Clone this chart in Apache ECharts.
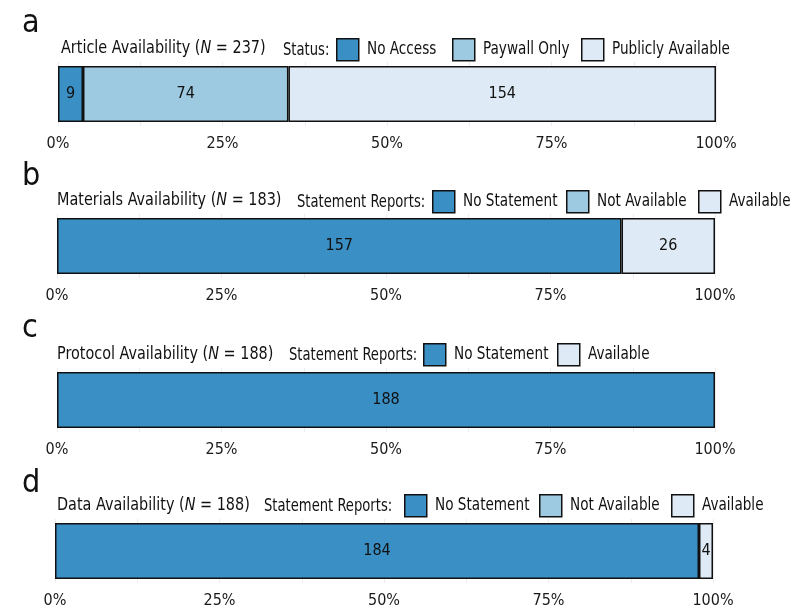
<!DOCTYPE html>
<html>
<head>
<meta charset="utf-8">
<script src="https://cdn.jsdelivr.net/npm/echarts@6/dist/echarts.min.js"></script>
<style>html,body{margin:0;padding:0;background:#fff}#c{width:811px;height:613px}</style>
</head>
<body>
<div id="c"></div>
<script>
// ---- data ----
const panelLetters = ['a', 'b', 'c', 'd'];
const panelTitles = ['Article Availability', 'Materials Availability', 'Protocol Availability', 'Data Availability'];
const sampleSizes = [237, 183, 188, 188];
const legendTitles = ['Status:', 'Statement Reports:', 'Statement Reports:', 'Statement Reports:'];
const categoriesA = ['No Access', 'Paywall Only', 'Publicly Available'];
const countsA = [9, 74, 154];
const categoriesB = ['No Statement', 'Not Available', 'Available'];
const countsB = [157, 0, 26];
const categoriesC = ['No Statement', 'Available'];
const countsC = [188, 0];
const categoriesD = ['No Statement', 'Not Available', 'Available'];
const countsD = [184, 0, 4];
const tickLabels = ['0%', '25%', '50%', '75%', '100%'];

// ---- styling / layout ----
const FONT = '"DejaVu Sans Condensed", "Liberation Sans Narrow", sans-serif';
const colorOf = {
  'No Access': '#3a8fc4', 'No Statement': '#3a8fc4',
  'Paywall Only': '#9ecae1', 'Not Available': '#9ecae1',
  'Publicly Available': '#deebf7', 'Available': '#deebf7'
};
const layout = [
  { left: 58, top: 62, letterTop: 8, titleX: 61, titleY: 48, lgTitleX: 283, lgY: 38, lgX: [336, 452, 581] },
  { left: 57, top: 214, letterTop: 161, titleX: 57, titleY: 200, lgTitleX: 297, lgY: 190, lgX: [432, 566, 698] },
  { left: 57, top: 368, letterTop: 313, titleX: 57, titleY: 354, lgTitleX: 289, lgY: 343, lgX: [423, 557] },
  { left: 55, top: 519, letterTop: 468, titleX: 57, titleY: 505, lgTitleX: 264, lgY: 494, lgX: [404, 539, 671] }
];
const panelCats = [categoriesA, categoriesB, categoriesC, categoriesD];
const panelCounts = [countsA, countsB, countsC, countsD];
const SX = 0.89;

const grids = [], xAxes = [], yAxes = [], series = [], legends = [], graphics = [];
panelCats.forEach((cats, p) => {
  const L = layout[p];
  const N = sampleSizes[p];
  grids.push({ left: L.left, top: L.top, width: 658, height: 64, containLabel: false });
  xAxes.push({
    type: 'value', gridIndex: p, min: 0, max: 100, interval: 12.5,
    axisLine: { show: false }, axisTick: { show: false },
    splitLine: { show: true, lineStyle: { color: '#ececec', width: 1 } },
    axisLabel: {
      margin: 10, color: '#1a1a1a', fontSize: 16, fontFamily: FONT,
      formatter: v => (Math.abs(v % 25) < 1e-6 ? tickLabels[Math.round(v / 25)] : '')
    }
  });
  yAxes.push({ type: 'category', gridIndex: p, data: [''], show: false });
  const counts = panelCounts[p];
  cats.forEach((c, i) => {
    series.push({
      type: 'bar', name: c, xAxisIndex: p, yAxisIndex: p, stack: 'panel' + p,
      barWidth: 56,
      data: [counts[i] / N * 100],
      itemStyle: { color: colorOf[c], borderColor: '#111', borderWidth: counts[i] > 0 ? 1.5 : 0 },
      label: {
        show: counts[i] > 0, position: 'inside', color: '#111', fontSize: 16, fontFamily: FONT,
        formatter: () => String(counts[i])
      },
      emphasis: { disabled: true },
      animation: false
    });
    legends.push({
      data: [c], left: L.lgX[i], top: L.lgY, padding: 0,
      itemWidth: 22, itemHeight: 22, icon: 'rect', selectedMode: false,
      itemStyle: { borderColor: '#111', borderWidth: 1.5 },
      formatter: () => '',
      textStyle: { fontSize: 1 }
    });
    graphics.push({
      type: 'text', x: L.lgX[i] + 31, y: L.lgY + 12, scaleX: SX,
      style: { text: c, fill: '#111', font: '17px ' + FONT, verticalAlign: 'middle', align: 'left' }
    });
  });
  graphics.push({
    type: 'text', left: 22, top: L.letterTop,
    style: { text: panelLetters[p], font: '32px ' + FONT, fill: '#111' }
  });
  graphics.push({
    type: 'text', x: L.titleX, y: L.titleY, scaleX: SX,
    style: {
      text: panelTitles[p] + ' ({i|N} = ' + N + ')',
      fill: '#111', font: '18px ' + FONT, verticalAlign: 'middle', align: 'left',
      rich: { i: { fontStyle: 'italic', fontSize: 18, fontFamily: FONT, fill: '#111' } }
    }
  });
  graphics.push({
    type: 'text', x: L.lgTitleX, y: L.lgY + 13, scaleX: 0.86,
    style: { text: legendTitles[p], fill: '#111', font: '17px ' + FONT, verticalAlign: 'middle', align: 'left' }
  });
});

const chart = echarts.init(document.getElementById('c'), null, { renderer: 'canvas' });
chart.setOption({
  backgroundColor: '#fff',
  animation: false,
  grid: grids, xAxis: xAxes, yAxis: yAxes, series: series, legend: legends,
  graphic: graphics
});
</script>
</body>
</html>
